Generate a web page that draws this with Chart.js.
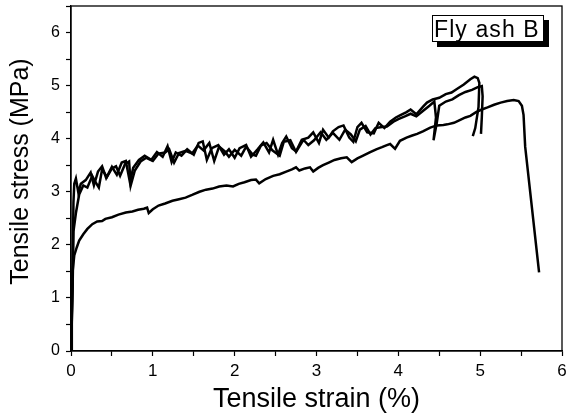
<!DOCTYPE html>
<html>
<head>
<meta charset="utf-8">
<script src="https://cdn.jsdelivr.net/npm/chart.js@4"></script>
<style>
  html, body { margin: 0; padding: 0; background: #fff; }
  #wrap { position: relative; width: 566px; height: 419px; }
  #tag {
    position: absolute; left: 432px; top: 15px; width: 109px; height: 25px;
    border: 1px solid #000; background: #fff; box-shadow: 5px 5px 0 #000;
    font: 23px "Liberation Sans", Arial, sans-serif; line-height: 26px;
    letter-spacing: 1.1px; white-space: nowrap;
    padding-left: 1px; box-sizing: content-box;
  }
</style>
</head>
<body>
<div id="wrap">
  <canvas id="chart" width="566" height="419"></canvas>
  <div id="tag">Fly ash B</div>
</div>
<script>
// specimen 1: lower curve (strain %, stress MPa)
const strainA = [0,0.01,0.02,0.04,0.07,0.1,0.15,0.2,0.26,0.32,0.38,0.42,0.5,0.58,0.67,0.75,0.82,0.89,0.93,0.95,1.0,1.07,1.15,1.24,1.32,1.4,1.48,1.57,1.65,1.73,1.81,1.9,1.98,2.05,2.12,2.2,2.26,2.3,2.38,2.47,2.55,2.63,2.7,2.75,2.79,2.86,2.92,2.96,3.02,3.08,3.15,3.22,3.3,3.37,3.43,3.5,3.57,3.65,3.73,3.8,3.86,3.9,3.96,4.02,4.1,4.17,4.23,4.3,4.39,4.47,4.55,4.6,4.68,4.75,4.82,4.88,4.95,5.02,5.09,5.17,5.25,5.33,5.41,5.47,5.51,5.53,5.55,5.72];
const stressA = [0,0.5,1.5,1.8,1.95,2.08,2.2,2.3,2.39,2.44,2.45,2.49,2.52,2.57,2.61,2.63,2.66,2.68,2.7,2.6,2.67,2.74,2.78,2.83,2.86,2.89,2.94,3.0,3.04,3.06,3.1,3.12,3.1,3.15,3.18,3.22,3.23,3.16,3.24,3.3,3.33,3.38,3.42,3.46,3.4,3.44,3.46,3.38,3.45,3.5,3.55,3.6,3.63,3.65,3.56,3.63,3.68,3.74,3.8,3.84,3.88,3.9,3.81,3.96,4.02,4.06,4.09,4.14,4.21,4.25,4.26,4.27,4.3,4.35,4.4,4.43,4.5,4.55,4.59,4.64,4.68,4.71,4.73,4.71,4.62,4.45,3.85,1.48];

// specimen 2: upper jagged curve
const strainB = [0,0.02,0.03,0.04,0.06,0.09,0.12,0.18,0.24,0.28,0.33,0.38,0.43,0.5,0.56,0.62,0.67,0.72,0.76,0.83,0.9,0.98,1.05,1.12,1.18,1.23,1.28,1.35,1.42,1.5,1.56,1.61,1.66,1.72,1.8,1.87,1.93,2.0,2.06,2.14,2.2,2.28,2.35,2.42,2.47,2.53,2.58,2.63,2.7,2.75,2.82,2.9,2.96,3.03,3.08,3.15,3.2,3.27,3.33,3.4,3.45,3.5,3.55,3.62,3.7,3.76,3.83,3.9,3.97,4.02,4.1,4.15,4.22,4.3,4.35,4.42,4.5,4.58,4.65,4.72,4.8,4.88,4.93,4.97,4.99,4.98,4.94,4.91];
const stressB = [0,1.5,2.8,3.15,3.25,2.98,3.15,3.22,3.36,3.12,3.38,3.48,3.26,3.47,3.32,3.55,3.58,3.18,3.45,3.6,3.68,3.6,3.75,3.66,3.86,3.56,3.74,3.68,3.8,3.7,3.92,3.95,3.6,3.82,3.88,3.7,3.8,3.64,3.82,3.88,3.66,3.8,3.93,3.74,3.98,3.7,3.92,4.04,3.82,3.76,3.98,4.02,4.12,3.92,4.17,4.02,4.14,4.22,4.25,4.02,3.94,4.22,4.3,4.12,4.1,4.3,4.2,4.32,4.4,4.44,4.5,4.55,4.46,4.6,4.68,4.74,4.77,4.84,4.87,4.94,5.02,5.12,5.17,5.14,5.05,4.6,4.2,4.05];

// specimen 3: second upper jagged curve
const strainC = [0,0.02,0.03,0.06,0.1,0.15,0.2,0.26,0.3,0.34,0.38,0.44,0.5,0.55,0.6,0.66,0.71,0.73,0.78,0.85,0.92,1.0,1.07,1.15,1.2,1.26,1.32,1.4,1.48,1.55,1.62,1.69,1.75,1.81,1.88,1.93,2.0,2.08,2.14,2.22,2.26,2.32,2.39,2.46,2.55,2.6,2.68,2.75,2.84,2.9,2.97,3.05,3.12,3.2,3.28,3.35,3.42,3.48,3.53,3.6,3.66,3.72,3.8,3.86,3.94,4.0,4.08,4.15,4.22,4.3,4.38,4.44,4.46,4.43,4.47,4.5,4.58,4.66,4.74,4.82,4.9,4.97,5.02,5.03,5.02,5.01];
const stressC = [0,1.2,2.25,2.6,2.95,3.12,3.08,3.3,3.18,3.08,3.42,3.28,3.44,3.48,3.3,3.52,3.57,3.12,3.4,3.57,3.64,3.58,3.72,3.74,3.8,3.55,3.73,3.77,3.72,3.87,3.78,3.92,3.58,3.85,3.76,3.66,3.79,3.68,3.85,3.7,3.68,3.87,3.92,3.78,3.68,3.94,3.97,3.75,3.98,3.88,3.97,4.12,3.98,4.11,3.98,4.17,4.08,3.95,4.17,4.24,4.08,4.2,4.22,4.23,4.32,4.37,4.42,4.47,4.42,4.52,4.62,4.7,4.4,3.97,4.3,4.62,4.7,4.74,4.82,4.88,4.92,4.97,4.99,4.8,4.4,4.09];

const majorTicks = [0, 1, 2, 3, 4, 5, 6];

const pts = (xs, ys) => xs.map((x, i) => ({ x, y: ys[i] }));

const fontFamily = '"Liberation Sans", Arial, sans-serif';

function series(xs, ys) {
  return {
    data: pts(xs, ys),
    showLine: true,
    borderColor: "#000",
    borderWidth: 2.5,
    pointRadius: 0,
    tension: 0
  };
}

const frame = {
  id: "frame",
  afterDraw(c) {
    const a = c.chartArea;
    const ctx = c.ctx;
    ctx.save();
    ctx.strokeStyle = "#000";
    ctx.lineWidth = 1.3;
    ctx.strokeRect(a.left, a.top, a.right - a.left, a.bottom - a.top);
    ctx.restore();
  }
};

const tickLabel = v => (majorTicks.includes(v) ? String(v) : "");

new Chart(document.getElementById("chart"), {
  type: "scatter",
  data: {
    datasets: [
      series(strainA, stressA),
      series(strainB, stressB),
      series(strainC, stressC)
    ]
  },
  options: {
    responsive: false,
    animation: false,
    layout: { padding: { top: 6, right: 4, left: 0, bottom: 0 } },
    plugins: { legend: { display: false }, tooltip: { enabled: false } },
    scales: {
      x: {
        type: "linear",
        min: 0,
        max: 6,
        afterFit(s) {
          s.height = 68;
          s.paddingLeft = 0;
          s.paddingRight = 0;
        },
        border: { color: "#000", width: 1.3 },
        grid: { drawOnChartArea: false, tickLength: 5, color: "#000", tickWidth: 1.2 },
        ticks: {
          stepSize: 0.5,
          autoSkip: false,
          maxRotation: 0,
          color: "#000",
          padding: 5,
          font: { family: fontFamily, size: 17 },
          callback: tickLabel
        },
        title: {
          display: true,
          text: "Tensile strain (%)",
          color: "#000",
          font: { family: fontFamily, size: 27 },
          padding: { top: 0, bottom: 3 }
        }
      },
      y: {
        type: "linear",
        min: 0,
        max: 6.5,
        afterFit(s) {
          s.width = 71;
          s.paddingTop = 0;
          s.paddingBottom = 0;
        },
        border: { color: "#000", width: 1.3 },
        grid: { drawOnChartArea: false, tickLength: 5, color: "#000", tickWidth: 1.2 },
        ticks: {
          stepSize: 0.5,
          autoSkip: false,
          color: "#000",
          padding: 6,
          font: { family: fontFamily, size: 16 },
          callback: tickLabel
        },
        title: {
          display: true,
          text: "  Tensile stress (MPa)",
          color: "#000",
          font: { family: fontFamily, size: 25 },
          padding: { top: 6, bottom: 0 }
        }
      }
    }
  },
  plugins: [frame]
});
</script>
</body>
</html>
